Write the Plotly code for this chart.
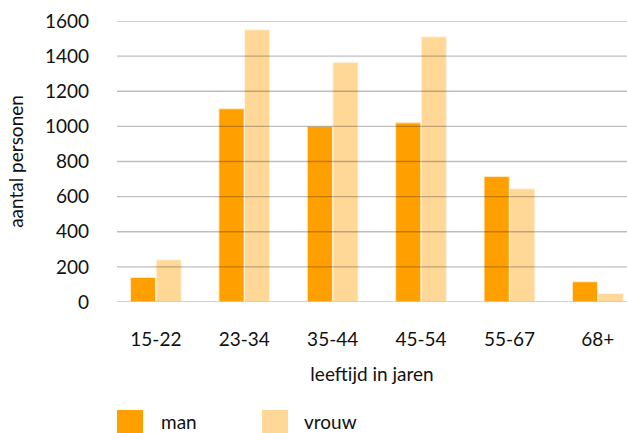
import plotly.graph_objects as go

# Age groups and head counts per group
categories = ["15-22", "23-34", "35-44", "45-54", "55-67", "68+"]
man = [140, 1100, 1000, 1020, 715, 115]
vrouw = [240, 1550, 1365, 1510, 645, 48]
y_ticks = [0, 200, 400, 600, 800, 1000, 1200, 1400, 1600]

COL_MAN = "#FFA000"
COL_VROUW = "#FFD898"
FONT = "Lato"
FS = 19
TXT = "#111111"

fig = go.Figure()
fig.add_trace(go.Bar(name="man", x=categories, y=man, marker_color=COL_MAN,
                     marker_line=dict(color="rgba(255,235,200,0.9)", width=1)))
fig.add_trace(go.Bar(name="vrouw", x=categories, y=vrouw, marker_color=COL_VROUW,
                     marker_line=dict(color="rgba(255,245,225,0.9)", width=1)))

# horizontal gridlines drawn on top of the bars
for t in y_ticks[1:]:
    fig.add_shape(type="line", xref="paper", yref="y", x0=0, x1=1, y0=t, y1=t,
                  line=dict(color="rgba(0,0,0,0.25)", width=1.3), layer="above")
fig.add_shape(type="line", xref="paper", yref="y", x0=0, x1=1, y0=0, y1=0,
              line=dict(color="#c4c4c4", width=1.5), layer="above")

# legend drawn as swatches and labels below the axis title
legend_items = [("man", COL_MAN, 117, 159), ("vrouw", COL_VROUW, 262, 302)]
W, H = 627, 433
for name, col, sx, tx in legend_items:
    fig.add_shape(type="rect", xref="paper", yref="paper",
                  x0=(sx - 117) / 510, x1=(sx + 26 - 117) / 510,
                  y0=(302 - 433) / 281, y1=(302 - 410) / 281,
                  fillcolor=col, line=dict(width=0))
    fig.add_annotation(text=name, xref="paper", yref="paper",
                       x=(tx - 117) / 510, y=(302 - 421) / 281,
                       xanchor="left", yanchor="middle", showarrow=False,
                       font=dict(family=FONT, size=FS, color=TXT))

fig.update_layout(
    width=W, height=H,
    margin=dict(l=117, r=0, t=21, b=131),
    paper_bgcolor="white", plot_bgcolor="white",
    barmode="group", bargap=0.42, bargroupgap=0.02,
    showlegend=False,
    font=dict(family=FONT, size=FS, color=TXT),
    xaxis=dict(range=[-0.44, 5.33], showgrid=False, showline=False, ticks="",
               ticklabelstandoff=24,
               title=dict(text="leeftijd in jaren", standoff=18,
                          font=dict(family=FONT, size=FS, color=TXT))),
    yaxis=dict(range=[0, 1600], tickvals=y_ticks, showgrid=False, zeroline=False,
               showline=False, ticks="", ticklabelstandoff=27,
               title=dict(text="aantal personen", standoff=16,
                          font=dict(family=FONT, size=FS, color=TXT))),
)

fig.write_html("out.html")
